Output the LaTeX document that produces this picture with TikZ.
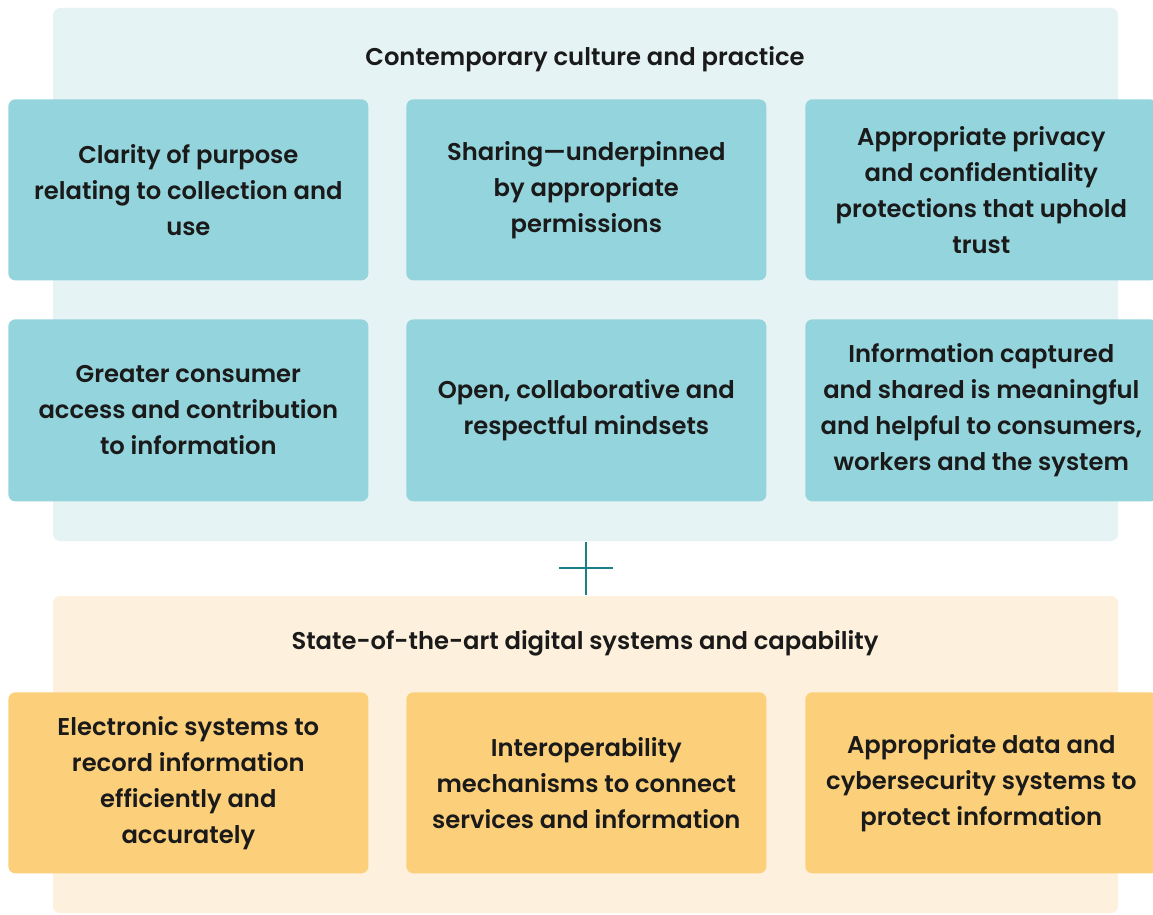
\documentclass[tikz,border=0pt]{standalone}
\usepackage{fontspec}
\setmainfont{Poppins}[UprightFont=*-SemiBold,BoldFont=*-Bold]
\definecolor{panelteal}{HTML}{E6F3F5}
\definecolor{boxteal}{HTML}{94D4DC}
\definecolor{panelorange}{HTML}{FDF0DC}
\definecolor{boxorange}{HTML}{FCD07A}
\definecolor{plusteal}{HTML}{1B7F8A}
\definecolor{ink}{HTML}{1A1A1A}
\tikzset{
  panel/.style={rounded corners=4pt, draw=none},
  cell/.style={rounded corners=4pt, draw=none, anchor=north west, inner sep=0pt,
    align=center, font=\fontsize{13.8}{20.5}\selectfont, text=ink},
  title/.style={font=\fontsize{13.8}{20.5}\selectfont, text=ink},
}
\begin{document}
\begin{tikzpicture}[x=0.02cm, y=-0.02cm]
\useasboundingbox (0,0) rectangle (1153,915);
\fill[white] (0,0) rectangle (1153,915);
% upper panel: culture and practice
\fill[panel, fill=panelteal] (53,8) rectangle (1118,541);
\node[title] (t1) at (585,59) {Contemporary culture and practice};
\node[cell, fill=boxteal, minimum width=360*0.02cm, minimum height=181*0.02cm] (a1) at (8,99)
  {Clarity of purpose\\relating to collection and\\use};
\node[cell, fill=boxteal, minimum width=360*0.02cm, minimum height=181*0.02cm] (a2) at (406,99)
  {Sharing---underpinned\\by appropriate\\permissions};
\node[cell, fill=boxteal, minimum width=352*0.02cm, minimum height=181*0.02cm] (a3) at (805,99)
  {Appropriate privacy\\and confidentiality\\protections that uphold\\trust};
\node[cell, fill=boxteal, minimum width=360*0.02cm, minimum height=182*0.02cm] (b1) at (8,319)
  {Greater consumer\\access and contribution\\to information};
\node[cell, fill=boxteal, minimum width=360*0.02cm, minimum height=182*0.02cm] (b2) at (406,319)
  {Open, collaborative and\\respectful mindsets};
\node[cell, fill=boxteal, minimum width=352*0.02cm, minimum height=182*0.02cm] (b3) at (805,319)
  {Information captured\\and shared is meaningful\\and helpful to consumers,\\workers and the system};
% joining plus sign
\coordinate (pc) at (586,568);
\draw[plusteal, line width=1.3pt] ([xshift=-27*0.02cm]pc) -- ([xshift=27*0.02cm]pc);
\draw[plusteal, line width=1.3pt] ([yshift=26*0.02cm]pc) -- ([yshift=-27*0.02cm]pc);
% lower panel: digital systems and capability
\fill[panel, fill=panelorange] (53,596) rectangle (1118,913);
\node[title] (t2) at (585,643) {State-of-the-art digital systems and capability};
\node[cell, fill=boxorange, minimum width=360*0.02cm, minimum height=181*0.02cm] (c1) at (8,692)
  {Electronic systems to\\record information\\efficiently and\\accurately};
\node[cell, fill=boxorange, minimum width=360*0.02cm, minimum height=181*0.02cm] (c2) at (406,692)
  {Interoperability\\mechanisms to connect\\services and information};
\node[cell, fill=boxorange, minimum width=352*0.02cm, minimum height=181*0.02cm] (c3) at (805,692)
  {Appropriate data and\\cybersecurity systems to\\protect information};
\end{tikzpicture}
\end{document}
